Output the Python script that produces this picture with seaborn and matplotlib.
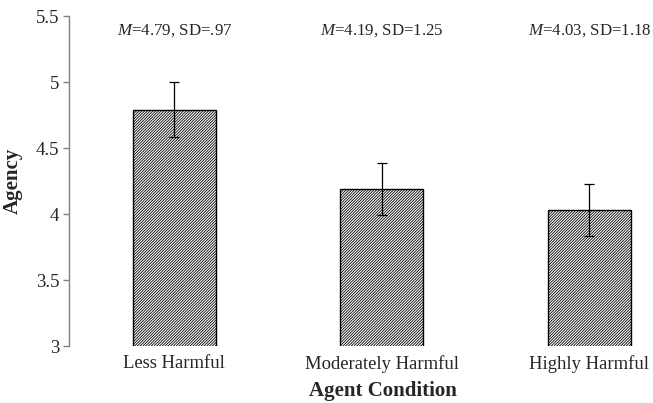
import matplotlib
matplotlib.use("Agg")
import matplotlib.pyplot as plt
import seaborn as sns
import pandas as pd

# podaci
conditions = ["Less Harmful", "Moderately Harmful", "Highly Harmful"]
means = [4.79, 4.19, 4.03]
errors = [0.21, 0.20, 0.20]
labels = ["4.79, SD=.97", "4.19, SD=1.25", "4.03, SD=1.18"]

df = pd.DataFrame({"condition": conditions, "agency": means})

sns.set_style("white")
plt.rcParams["font.family"] = ["Liberation Serif", "DejaVu Serif"]
plt.rcParams["mathtext.fontset"] = "custom"
plt.rcParams["mathtext.it"] = "Liberation Serif:italic"
plt.rcParams["mathtext.rm"] = "Liberation Serif"
plt.rcParams["hatch.linewidth"] = 0.6

fig = plt.figure(figsize=(6.53, 4.03), dpi=100)
ax = fig.add_axes([69 / 653, 57 / 403, 584 / 653, 330 / 403])

sns.barplot(data=df, x="condition", y="agency", color="white", width=0.4,
            edgecolor="black", linewidth=1.0, errorbar=None, ax=ax)
for p in ax.patches:
    p.set_hatch("////////////")

ax.errorbar(range(len(conditions)), means, yerr=errors, fmt="none",
            ecolor="black", elinewidth=0.9, capsize=3.5, capthick=0.9)

for i, t in enumerate(labels):
    ax.text(i, 5.39, "$\\mathit{M}$=" + t, ha="center", va="center", fontsize=12.2)

ax.set_ylim(3, 5.5)
ax.set_xlim(-0.508, 2.306)
ax.set_yticks([3, 3.5, 4, 4.5, 5, 5.5])
ax.set_yticklabels(["3", "3.5", "4", "4.5", "5", "5.5"])

for s in ["top", "right", "bottom"]:
    ax.spines[s].set_visible(False)
ax.spines["left"].set_color("#808080")
ax.spines["left"].set_linewidth(1.0)
ax.tick_params(axis="y", left=True, length=4, width=1, color="#808080",
               labelsize=13.5, pad=3)
ax.tick_params(axis="x", bottom=False, labelsize=13.4, pad=3)

ax.set_xlabel("Agent Condition", fontsize=15, fontweight="bold")
ax.set_ylabel("Agency", fontsize=15, fontweight="bold")
ax.xaxis.set_label_coords((383 - 69) / 584, -0.105)
ax.yaxis.set_label_coords(-0.079, 0.5)

fig.savefig("out.png", dpi=100)
